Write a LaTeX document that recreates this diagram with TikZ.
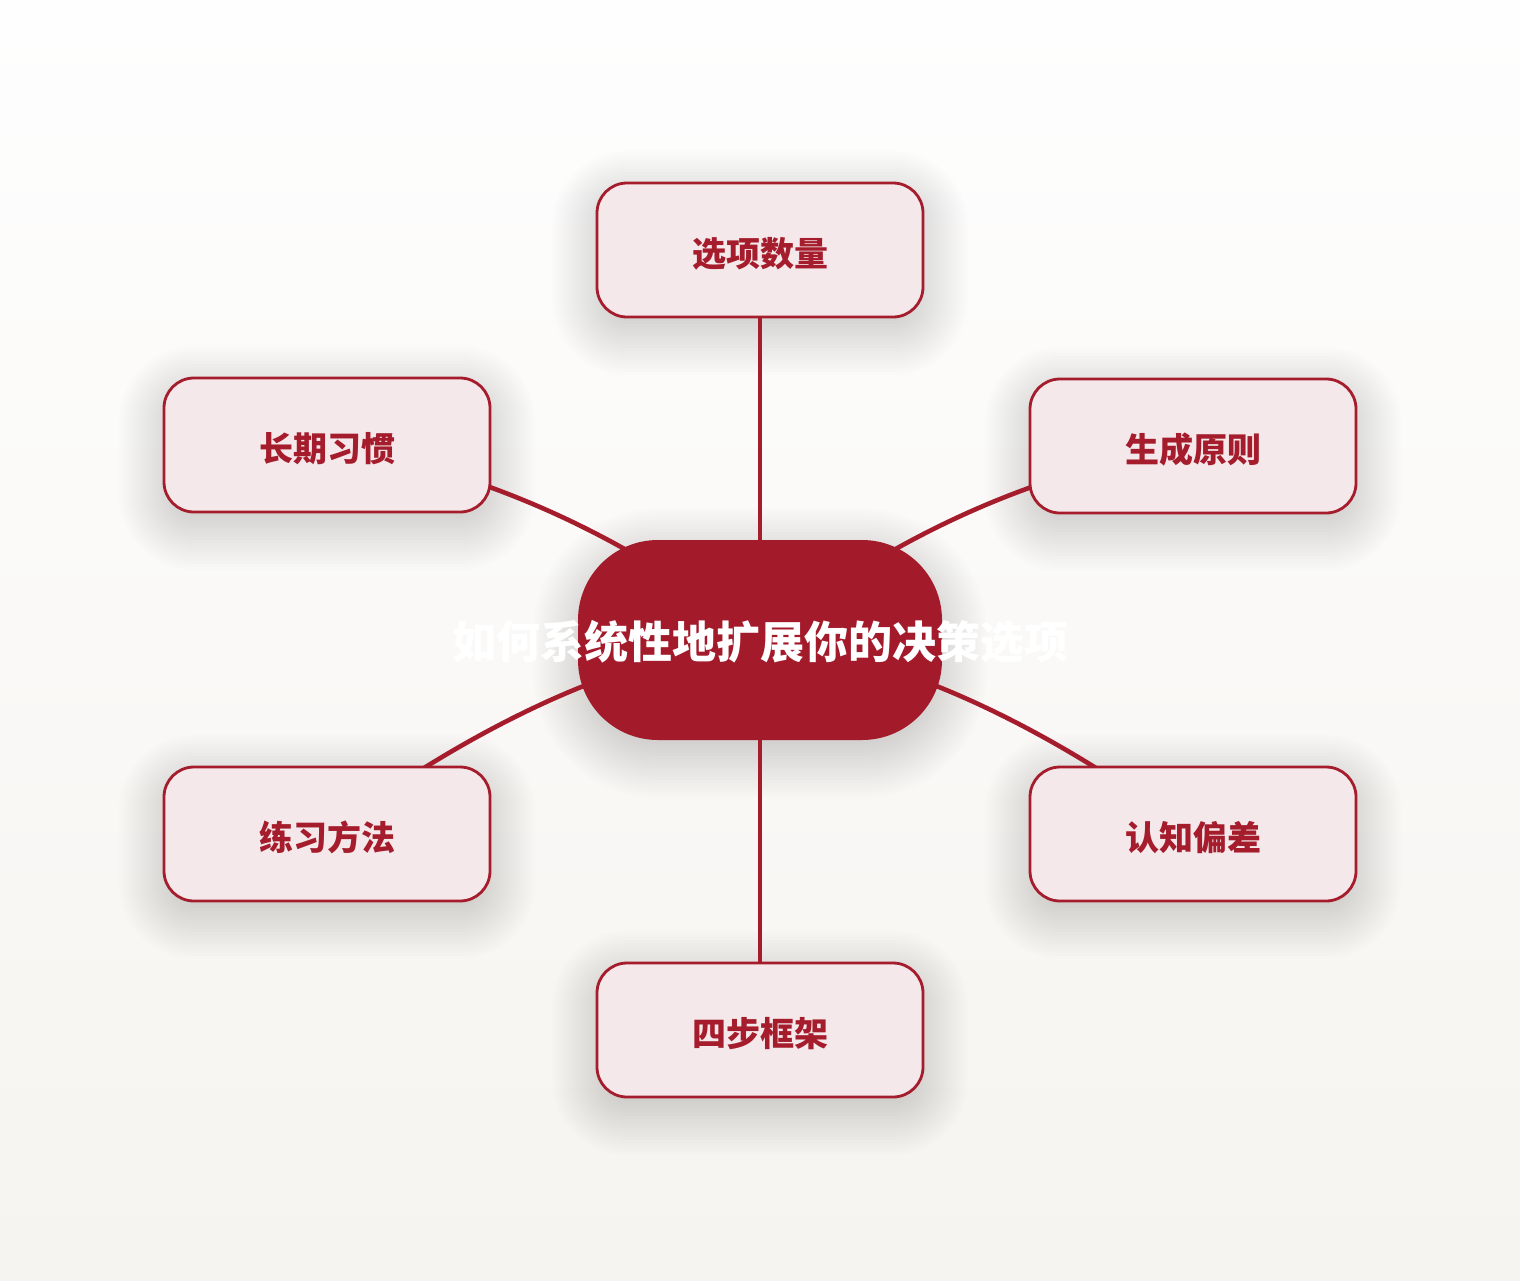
\documentclass[tikz,border=0pt]{standalone}
\usepackage{fontspec}
\newfontfamily\cjk{Noto Sans CJK SC}
\definecolor{mred}{HTML}{A51C2C}
\definecolor{cred}{HTML}{A31A2A}
\definecolor{mpink}{HTML}{F4E8EA}
\definecolor{bgtop}{HTML}{FEFEFE}
\definecolor{bgbot}{HTML}{F6F4F0}
\pgfdeclarelayer{bgl}
\pgfdeclarelayer{shd}
\pgfdeclarelayer{lnk}
\pgfsetlayers{bgl,shd,lnk,main}
\tikzset{
  leaf/.style={rectangle, rounded corners=30pt, minimum width=326pt, minimum height=134pt,
    draw=mred, line width=2.8pt, fill=mpink, text=mred,
    font=\cjk\bfseries\fontsize{34}{40}\selectfont, inner sep=0pt,
    text height=32pt, text depth=0pt},
  hub/.style={rectangle, rounded corners=80pt, minimum width=364pt, minimum height=200pt,
    fill=cred, text=white, font=\cjk\bfseries\fontsize{44}{52}\selectfont, inner sep=0pt,
    text height=36pt, text depth=0pt},
  link/.style={draw=mred, line width=4.6pt, line cap=round},
}
\newcommand\softshadow[5]{%
  \foreach \k in {0,...,19}{%
    \pgfmathsetmacro\s{-12+3*\k}%
    \pgfmathsetmacro\rr{#5+\s}%
    \fill[black, opacity=0.008, rounded corners=\rr pt]
      (#1-#3/2-\s, #2-#4/2-\s+13) rectangle (#1+#3/2+\s, #2+#4/2+\s+13);
  }}
\begin{document}
\begin{tikzpicture}[x=1pt, y=-1pt]
\begin{pgfonlayer}{bgl}
  \shade[top color=bgtop, bottom color=bgbot] (0,0) rectangle (1520,1280);
\end{pgfonlayer}
\useasboundingbox (0,0) rectangle (1520,1280);
\begin{pgfonlayer}{shd}
  \softshadow{760}{640}{364}{200}{80}
  \softshadow{760}{250}{326}{134}{30}
  \softshadow{327}{445}{326}{134}{30}
  \softshadow{1193}{446}{326}{134}{30}
  \softshadow{327}{834}{326}{134}{30}
  \softshadow{1193}{834}{326}{134}{30}
  \softshadow{760}{1030}{326}{134}{30}
\end{pgfonlayer}

\node[hub] (hub) at (760,640) {\makebox[0pt][c]{如何系统性地扩展你的决策选项}};
\node[leaf] (n1) at (760,250) {选项数量};
\node[leaf] (n2) at (1193,446) {生成原则};
\node[leaf] (n3) at (1193,834) {认知偏差};
\node[leaf] (n4) at (760,1030) {四步框架};
\node[leaf] (n5) at (327,834) {练习方法};
\node[leaf] (n6) at (327,445) {长期习惯};

\begin{pgfonlayer}{lnk}
  \draw[link] (hub.center) -- (n1.center);
  \draw[link] (hub.center) .. controls (893.3,534.7) and (1037.7,470) .. (n2.center);
  \draw[link] (hub.center) .. controls (893.3,654.7) and (1037.7,719.3) .. (n3.center);
  \draw[link] (hub.center) -- (n4.center);
  \draw[link] (hub.center) .. controls (626.7,654.7) and (482.3,719.3) .. (n5.center);
  \draw[link] (hub.center) .. controls (626.7,534.7) and (482.3,469.7) .. (n6.center);
\end{pgfonlayer}
\end{tikzpicture}
\end{document}
